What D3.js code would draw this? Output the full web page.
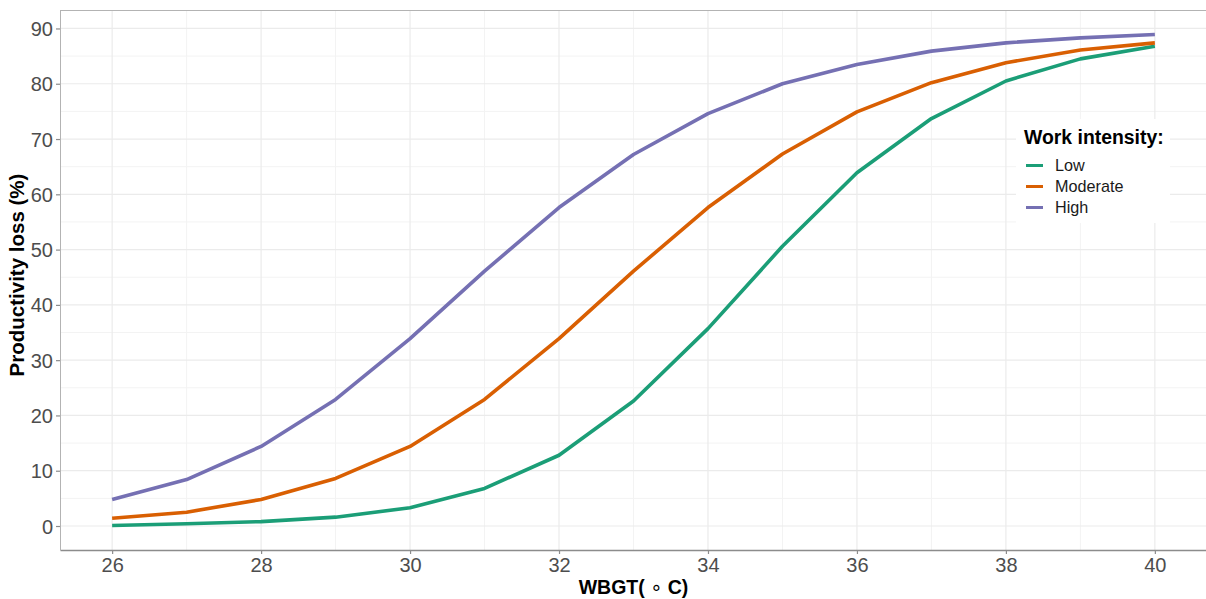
<!DOCTYPE html>
<html>
<head>
<meta charset="utf-8">
<script src="https://cdn.jsdelivr.net/npm/d3@7/dist/d3.min.js"></script>
<style>
  html, body { margin: 0; padding: 0; background: #fff; }
  svg { display: block; font-family: "Liberation Sans", Arial, "DejaVu Sans", sans-serif; }
</style>
</head>
<body>
<svg id="chart" width="1206" height="599"></svg>
<script>
// WBGT (°C) steps
const wbgt = [26, 27, 28, 29, 30, 31, 32, 33, 34, 35, 36, 37, 38, 39, 40];

// Productivity loss (%) by work intensity
const lowLoss      = [0.1, 0.4, 0.8, 1.6, 3.3, 6.8, 12.8, 22.6, 35.7, 50.6, 63.9, 73.7, 80.5, 84.5, 86.8];
const moderateLoss = [1.4, 2.5, 4.8, 8.6, 14.4, 22.9, 33.9, 46.1, 57.6, 67.3, 74.9, 80.2, 83.8, 86.1, 87.4];
const highLoss     = [4.8, 8.4, 14.4, 22.9, 33.9, 46.1, 57.6, 67.2, 74.6, 80.0, 83.5, 85.9, 87.4, 88.3, 88.9];

const seriesNames  = ["Low", "Moderate", "High"];
const seriesColors = ["#1B9E77", "#D95F02", "#7570B3"];

const xTicks = [26, 28, 30, 32, 34, 36, 38, 40];
const yTicks = [0, 10, 20, 30, 40, 50, 60, 70, 80, 90];

const series = [lowLoss, moderateLoss, highLoss].map((vals, i) => ({
  name: seriesNames[i],
  color: seriesColors[i],
  points: wbgt.map((t, j) => ({ x: t, y: vals[j] }))
}));

const svg = d3.select("#chart");
const panel = { left: 60, top: 10, right: 1207, bottom: 550 };

// 5% expansion around the data range
const xMin = d3.min(wbgt), xMax = d3.max(wbgt);
const xPad = (xMax - xMin) * 0.05;
const allY = lowLoss.concat(moderateLoss, highLoss);
const yMin = d3.min(allY), yMax = d3.max(allY);
const yPad = (yMax - yMin) * 0.05;

const x = d3.scaleLinear().domain([xMin - xPad, xMax + xPad]).range([panel.left, panel.right]);
const y = d3.scaleLinear().domain([yMin - yPad, yMax + yPad]).range([panel.bottom, panel.top]);

const grid = svg.append("g");

// minor grid
const xMinor = d3.range(27, 40, 2);
const yMinor = d3.range(5, 95, 10);
grid.selectAll(".xminor").data(xMinor).join("line")
  .attr("x1", d => x(d)).attr("x2", d => x(d))
  .attr("y1", panel.top).attr("y2", panel.bottom)
  .attr("stroke", "#f3f3f3").attr("stroke-width", 1);
grid.selectAll(".yminor").data(yMinor).join("line")
  .attr("x1", panel.left).attr("x2", panel.right)
  .attr("y1", d => y(d)).attr("y2", d => y(d))
  .attr("stroke", "#f3f3f3").attr("stroke-width", 1);

// major grid
grid.selectAll(".xmajor").data(xTicks).join("line")
  .attr("x1", d => x(d)).attr("x2", d => x(d))
  .attr("y1", panel.top).attr("y2", panel.bottom)
  .attr("stroke", "#ebebeb").attr("stroke-width", 1.2);
grid.selectAll(".ymajor").data(yTicks).join("line")
  .attr("x1", panel.left).attr("x2", panel.right)
  .attr("y1", d => y(d)).attr("y2", d => y(d))
  .attr("stroke", "#ebebeb").attr("stroke-width", 1.2);

// panel border (top)
svg.append("line")
  .attr("x1", panel.left).attr("x2", panel.right)
  .attr("y1", panel.top + 0.5).attr("y2", panel.top + 0.5)
  .attr("stroke", "#b3b3b3").attr("stroke-width", 1);

// series lines
const line = d3.line().x(d => x(d.x)).y(d => y(d.y));
svg.append("g").selectAll("path").data(series).join("path")
  .attr("d", d => line(d.points))
  .attr("fill", "none")
  .attr("stroke", d => d.color)
  .attr("stroke-width", 3.6)
  .attr("stroke-linejoin", "round");

// axes
const xAxis = svg.append("g")
  .attr("transform", `translate(0,${panel.bottom})`)
  .call(d3.axisBottom(x).tickValues(xTicks).tickSize(4).tickPadding(4).tickSizeOuter(0));
const yAxis = svg.append("g")
  .attr("transform", `translate(${panel.left},0)`)
  .call(d3.axisLeft(y).tickValues(yTicks).tickSize(4).tickPadding(3).tickSizeOuter(0));

xAxis.select(".domain").attr("stroke", "#8c8c8c").attr("stroke-width", 1.4);
yAxis.select(".domain").attr("stroke", "#b3b3b3").attr("stroke-width", 1);
[xAxis, yAxis].forEach(a => {
  a.selectAll(".tick line").attr("stroke", "#8c8c8c").attr("stroke-width", 1.2);
  a.selectAll(".tick text")
    .attr("fill", "#4d4d4d")
    .style("font-size", "20px")
    .style("font-family", "'Liberation Sans', Arial, sans-serif");
});
yAxis.selectAll(".tick text").attr("dy", "0.35em");

// axis titles
const xTitle = svg.append("text")
  .attr("x", (panel.left + panel.right) / 2)
  .attr("y", 594)
  .attr("text-anchor", "middle")
  .style("font-size", "19.5px")
  .style("font-weight", "bold")
  .attr("fill", "#000");
xTitle.append("tspan").text("WBGT( ");
xTitle.append("tspan").style("font-weight", "normal").style("font-family", "'DejaVu Sans', sans-serif").text("∘");
xTitle.append("tspan").text(" C)");

svg.append("text")
  .attr("transform", `translate(24,${(panel.top + panel.bottom) / 2 - 5}) rotate(-90)`)
  .attr("text-anchor", "middle")
  .style("font-size", "20.5px")
  .style("font-weight", "bold")
  .attr("fill", "#000")
  .text("Productivity loss (%)");

// legend
const legend = svg.append("g").attr("transform", "translate(1016,119)");
legend.append("rect")
  .attr("x", 0).attr("y", 0).attr("width", 154).attr("height", 104)
  .attr("fill", "#fff");
legend.append("text")
  .attr("x", 8).attr("y", 25)
  .style("font-size", "19.4px").style("font-weight", "bold")
  .attr("fill", "#000")
  .text("Work intensity:");
const items = legend.selectAll(".item").data(series).join("g")
  .attr("transform", (d, i) => `translate(0,${46.5 + i * 21})`);
items.append("line")
  .attr("x1", 10).attr("x2", 27)
  .attr("stroke", d => d.color).attr("stroke-width", 3);
items.append("text")
  .attr("x", 39).attr("dy", "0.35em")
  .style("font-size", "16.2px")
  .attr("fill", "#1a1a1a")
  .text(d => d.name);
</script>
</body>
</html>
